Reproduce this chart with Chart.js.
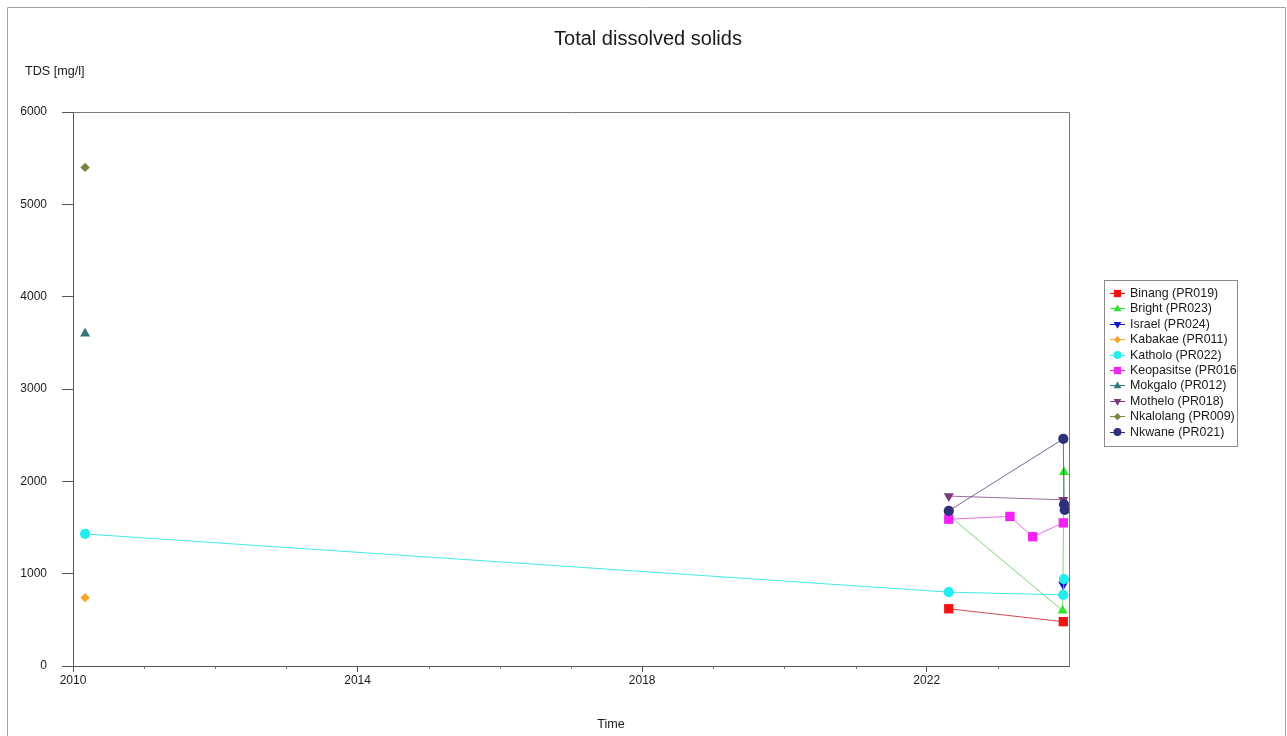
<!DOCTYPE html>
<html>
<head>
<meta charset="utf-8">
<title>Total dissolved solids</title>
<script src="https://cdn.jsdelivr.net/npm/chart.js@4/dist/chart.umd.min.js"></script>
<style>
  html, body { margin: 0; padding: 0; background: #ffffff; }
  #wrap { width: 1287px; height: 736px; }
</style>
</head>
<body>
<div id="wrap"><canvas id="tds" width="1287" height="736"></canvas></div>
<script>
// Sampling dates (decimal years) and TDS values [mg/l] per station
const stations = [
  'Binang (PR019)', 'Bright (PR023)', 'Israel (PR024)', 'Kabakae (PR011)',
  'Katholo (PR022)', 'Keopasitse (PR016)', 'Mokgalo (PR012)', 'Mothelo (PR018)',
  'Nkalolang (PR009)', 'Nkwane (PR021)'
];

const binangYears = [2022.31, 2023.92];
const binangTDS = [620, 480];

const brightYears = [2022.31, 2023.91, 2023.93];
const brightTDS = [1630, 600, 2100];

const israelYears = [2023.92];
const israelTDS = [880];

const kabakaeYears = [2010.17];
const kabakaeTDS = [740];

const katholoYears = [2010.17, 2022.31, 2023.92, 2023.93];
const katholoTDS = [1430, 800, 770, 940];

const keopasitseYears = [2022.31, 2023.17, 2023.49, 2023.92];
const keopasitseTDS = [1590, 1620, 1400, 1550];

const mokgaloYears = [2010.17];
const mokgaloTDS = [3600];

const motheloYears = [2022.31, 2023.92];
const motheloTDS = [1840, 1800];

const nkalolangYears = [2010.17];
const nkalolangTDS = [5400];

const nkwaneYears = [2022.31, 2023.92, 2023.93, 2023.94];
const nkwaneTDS = [1680, 2460, 1750, 1690];

// Axis ticks
const yTicks = [0, 1000, 2000, 3000, 4000, 5000, 6000];
const xLabelYears = [2010, 2014, 2018, 2022];

// Marker styling per station
const colors = ['#f21212', '#2fe52f', '#1414c8', '#f5a623', '#22eeee',
                '#f222f2', '#2e7a7a', '#7b3b7b', '#7f7f3f', '#303078'];
const lineColors = ['rgba(200,40,40,0.85)', 'rgba(60,200,60,0.7)', 'rgba(20,20,200,0.7)',
                    'rgba(245,166,35,0.7)', 'rgba(34,230,230,0.85)', 'rgba(220,60,220,0.75)',
                    'rgba(46,122,122,0.7)', 'rgba(123,59,123,0.75)', 'rgba(127,127,63,0.7)',
                    'rgba(60,60,120,0.75)'];
const shapes = ['rect', 'triangle', 'triangle', 'rectRot', 'circle',
                'rect', 'triangle', 'triangle', 'rectRot', 'circle'];
const rotations = [0, 0, 180, 0, 0, 0, 0, 180, 0, 0];
const radii = [6.6, 5.8, 5.8, 4.7, 5.1, 6.6, 5.8, 5.8, 4.7, 5.1];

const seriesYears = [binangYears, brightYears, israelYears, kabakaeYears, katholoYears,
                     keopasitseYears, mokgaloYears, motheloYears, nkalolangYears, nkwaneYears];
const seriesTDS = [binangTDS, brightTDS, israelTDS, kabakaeTDS, katholoTDS,
                   keopasitseTDS, mokgaloTDS, motheloTDS, nkalolangTDS, nkwaneTDS];

const FONT = '"Liberation Sans", Arial, Helvetica, sans-serif';

const datasets = stations.map((name, i) => ({
  label: name,
  data: seriesYears[i].map((x, k) => ({ x: x, y: seriesTDS[i][k] })),
  borderColor: lineColors[i],
  backgroundColor: colors[i],
  borderWidth: 1,
  pointStyle: shapes[i],
  rotation: rotations[i],
  pointRadius: radii[i],
  pointBorderWidth: 0,
  pointBorderColor: colors[i],
  pointBackgroundColor: colors[i],
  showLine: true,
  tension: 0,
  // later stations are painted over earlier ones
  order: stations.length - 1 - i
}));

function drawMarker(ctx, shape, rot, x, y, r, color) {
  ctx.save();
  ctx.fillStyle = color;
  ctx.beginPath();
  if (shape === 'circle') {
    ctx.arc(x, y, r, 0, Math.PI * 2);
  } else if (shape === 'rect') {
    const s = r * Math.SQRT1_2;
    ctx.rect(x - s, y - s, 2 * s, 2 * s);
  } else if (shape === 'rectRot') {
    ctx.moveTo(x - r, y); ctx.lineTo(x, y - r); ctx.lineTo(x + r, y); ctx.lineTo(x, y + r);
    ctx.closePath();
  } else if (shape === 'triangle') {
    let a = rot * Math.PI / 180;
    for (let k = 0; k < 3; k++) {
      const px = x + Math.sin(a) * r, py = y - Math.cos(a) * r;
      if (k === 0) ctx.moveTo(px, py); else ctx.lineTo(px, py);
      a += 2 * Math.PI / 3;
    }
    ctx.closePath();
  }
  ctx.fill();
  ctx.restore();
}

// Page frame, titles, plot box, minor year ticks and station legend
const decorations = {
  id: 'decorations',
  beforeDraw(chart) {
    const ctx = chart.ctx;
    ctx.save();
    ctx.fillStyle = '#ffffff';
    ctx.fillRect(0, 0, chart.width, chart.height);
    ctx.strokeStyle = '#a3a3a3';
    ctx.lineWidth = 1;
    ctx.beginPath();
    ctx.moveTo(7.5, chart.height);
    ctx.lineTo(7.5, 7.5);
    ctx.lineTo(1285.5, 7.5);
    ctx.lineTo(1285.5, chart.height);
    ctx.stroke();
    ctx.restore();
  },
  afterDraw(chart) {
    const ctx = chart.ctx;
    const a = chart.chartArea;
    const xs = chart.scales.x;
    ctx.save();
    // top and right edges of the plot box
    ctx.strokeStyle = '#7a7a7a';
    ctx.lineWidth = 1;
    ctx.beginPath();
    ctx.moveTo(Math.round(a.left) + 0.5, Math.round(a.top) + 0.5);
    ctx.lineTo(Math.round(a.right) + 0.5, Math.round(a.top) + 0.5);
    ctx.lineTo(Math.round(a.right) + 0.5, Math.round(a.bottom) + 0.5);
    ctx.stroke();

    // minor ticks for every year without a label
    ctx.strokeStyle = '#777777';
    ctx.beginPath();
    for (let yr = Math.ceil(xs.min); yr < xs.max; yr++) {
      if (xLabelYears.includes(yr)) continue;
      const px = Math.round(xs.getPixelForValue(yr)) + 0.5;
      ctx.moveTo(px, a.bottom);
      ctx.lineTo(px, a.bottom + 3);
    }
    ctx.stroke();

    // titles
    ctx.fillStyle = '#1a1a1a';
    ctx.textAlign = 'center';
    ctx.textBaseline = 'alphabetic';
    ctx.font = '20px ' + FONT;
    ctx.fillText('Total dissolved solids', 648, 45);
    ctx.font = '12.6px ' + FONT;
    ctx.textAlign = 'left';
    ctx.textBaseline = 'middle';
    ctx.fillText('TDS [mg/l]', 25, 72);
    ctx.textAlign = 'center';
    ctx.fillText('Time', 611, 725);

    // legend
    const lx = 1104, ly = 280, lw = 133, lh = 166;
    ctx.fillStyle = '#ffffff';
    ctx.fillRect(lx, ly, lw, lh);
    ctx.save();
    ctx.beginPath();
    ctx.rect(lx, ly, lw, lh);
    ctx.clip();
    ctx.font = '12.4px ' + FONT;
    ctx.textAlign = 'left';
    ctx.textBaseline = 'middle';
    stations.forEach((name, i) => {
      const y = 293 + i * 15.4;
      ctx.strokeStyle = colors[i];
      ctx.lineWidth = 1;
      ctx.beginPath();
      ctx.moveTo(1110, Math.round(y) + 0.5);
      ctx.lineTo(1125, Math.round(y) + 0.5);
      ctx.stroke();
      drawMarker(ctx, shapes[i], rotations[i], 1117.5, y + 0.5, radii[i] * 0.78, colors[i]);
      ctx.fillStyle = '#1a1a1a';
      ctx.fillText(name, 1130, y + 0.5);
    });
    ctx.restore();
    ctx.strokeStyle = '#8a8a8a';
    ctx.strokeRect(lx + 0.5, ly + 0.5, lw, lh);
    ctx.restore();
  }
};

new Chart(document.getElementById('tds'), {
  type: 'scatter',
  data: { datasets: datasets },
  plugins: [decorations],
  options: {
    responsive: false,
    devicePixelRatio: 1,
    animation: false,
    events: [],
    layout: { padding: { left: 0, top: 112, right: 218, bottom: 0 } },
    plugins: {
      legend: { display: false },
      title: { display: false },
      tooltip: { enabled: false }
    },
    scales: {
      x: {
        type: 'linear',
        min: 2010,
        max: 2024,
        afterFit(scale) { scale.height = 70; },
        border: { display: true, color: '#555555', width: 1 },
        grid: {
          drawOnChartArea: false,
          drawTicks: true,
          tickLength: 6,
          tickColor: (c) => (c.tick && xLabelYears.includes(c.tick.value)) ? '#555555' : 'rgba(0,0,0,0)'
        },
        ticks: {
          stepSize: 1,
          autoSkip: false,
          maxRotation: 0,
          padding: 1,
          color: '#1a1a1a',
          font: { family: FONT, size: 12 },
          callback: (v) => xLabelYears.includes(v) ? String(v) : ''
        }
      },
      y: {
        type: 'linear',
        min: yTicks[0],
        max: yTicks[yTicks.length - 1],
        afterFit(scale) { scale.width = 73; },
        afterBuildTicks(scale) { scale.ticks = yTicks.map(v => ({ value: v })); },
        border: { display: true, color: '#555555', width: 1 },
        grid: {
          drawOnChartArea: false,
          drawTicks: true,
          tickLength: 11,
          tickColor: '#555555'
        },
        ticks: {
          padding: 15,
          color: '#1a1a1a',
          font: { family: FONT, size: 12 },
          callback: (v) => String(v)
        }
      }
    }
  }
});
</script>
</body>
</html>
